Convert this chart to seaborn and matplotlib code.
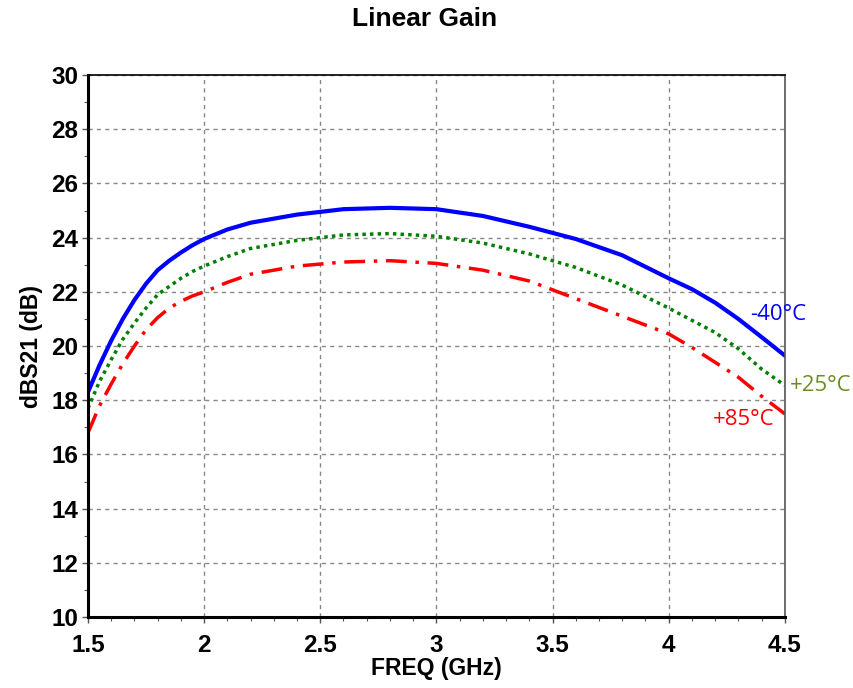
import numpy as np
import pandas as pd
import seaborn as sns
import matplotlib.pyplot as plt
from matplotlib.ticker import MultipleLocator

freq = [1.5, 1.55, 1.6, 1.65, 1.7, 1.75, 1.8, 1.85, 1.9, 1.95, 2.0, 2.1, 2.2, 2.4, 2.6, 2.8, 3.0,
        3.2, 3.4, 3.6, 3.8, 4.0, 4.1, 4.2, 4.3, 4.4, 4.5]
gain_m40 = [18.3, 19.3, 20.2, 21.0, 21.7, 22.3, 22.8, 23.15, 23.45, 23.72, 23.95, 24.3, 24.55, 24.85, 25.05, 25.1, 25.05,
            24.8, 24.4, 23.95, 23.35, 22.5, 22.1, 21.6, 21.0, 20.33, 19.65]
gain_p25 = [17.7, 18.7, 19.5, 20.25, 20.85, 21.4, 21.9, 22.2, 22.5, 22.75, 22.95, 23.3, 23.6, 23.9, 24.1, 24.15, 24.05,
            23.8, 23.4, 22.9, 22.25, 21.4, 20.95, 20.5, 19.9, 19.15, 18.55]
gain_p85 = [16.8, 17.8, 18.6, 19.35, 20.0, 20.6, 21.05, 21.4, 21.65, 21.85, 22.0, 22.35, 22.65, 22.95, 23.1, 23.15, 23.05,
            22.8, 22.4, 21.75, 21.1, 20.45, 19.95, 19.4, 18.85, 18.15, 17.5]

sns.set_style("white")
plt.rcParams['font.family'] = ['Liberation Sans', 'DejaVu Sans']
plt.rcParams['text.color'] = 'black'
plt.rcParams['axes.labelcolor'] = 'black'
plt.rcParams['xtick.color'] = 'black'
plt.rcParams['ytick.color'] = 'black'

fig = plt.figure(figsize=(8.54, 6.88), dpi=100)
ax = fig.add_axes([0.103, 0.103, 0.816, 0.788])

sns.lineplot(x=freq, y=gain_m40, ax=ax, color='#0000ff', linewidth=3)
sns.lineplot(x=freq, y=gain_p25, ax=ax, color='#008000', linewidth=2.5, linestyle=(0, (1, 1.2)))
sns.lineplot(x=freq, y=gain_p85, ax=ax, color='#ff0000', linewidth=2.5, linestyle=(0, (6, 2.5, 1, 2.5)))

ax.set_xlim(1.5, 4.5)
ax.set_ylim(10, 30)
ax.xaxis.set_minor_locator(MultipleLocator(0.1))
ax.yaxis.set_major_locator(MultipleLocator(2))
ax.yaxis.set_minor_locator(MultipleLocator(1))
ax.set_xticks([1.5, 2, 2.5, 3, 3.5, 4, 4.5])
ax.set_xticklabels(['1.5', '2', '2.5', '3', '3.5', '4', '4.5'])
ax.grid(True, which='major', color='#888888', linestyle=(0, (3, 3)), linewidth=1)
ax.tick_params(which='major', direction='out', length=4, width=1, labelsize=17.5)
ax.tick_params(which='minor', direction='out', length=3, width=0.8)
ax.tick_params(axis='x', which='both', bottom=True, colors='#555555', labelcolor='black')
ax.tick_params(axis='x', which='major', pad=8)
ax.tick_params(axis='y', which='both', left=True, colors='#555555', labelcolor='black')
ax.tick_params(axis='y', which='major', pad=3)
for lab in ax.get_xticklabels() + ax.get_yticklabels():
    lab.set_fontweight('bold')
ax.spines['left'].set_color('black')
ax.spines['bottom'].set_color('black')
ax.spines['left'].set_linewidth(2.2)
ax.spines['bottom'].set_linewidth(2.2)
ax.spines['top'].set_color('black')
ax.spines['top'].set_linewidth(1.2)
ax.spines['right'].set_color('#555555')
ax.spines['right'].set_linewidth(1.2)

ax.set_xlabel('FREQ (GHz)', fontsize=16.5, fontweight='bold', labelpad=0)
ax.set_ylabel('dBS21 (dB)', fontsize=16.5, fontweight='bold', labelpad=6)
fig.suptitle('Linear Gain', x=0.497, y=0.99, fontsize=19, fontweight='bold')

lab_font = ['Open Sans', 'DejaVu Sans']
ax.text(4.35, 21.15, '-40°C', color='#0000ff', fontsize=16, family=lab_font, va='center', clip_on=False)
ax.text(4.52, 18.55, '+25°C', color='#6b8e23', fontsize=16, family=lab_font, va='center', clip_on=False)
ax.text(4.19, 17.3, '+85°C', color='#ff0000', fontsize=16, family=lab_font, va='center', clip_on=False)

fig.savefig('out.png', dpi=100)
